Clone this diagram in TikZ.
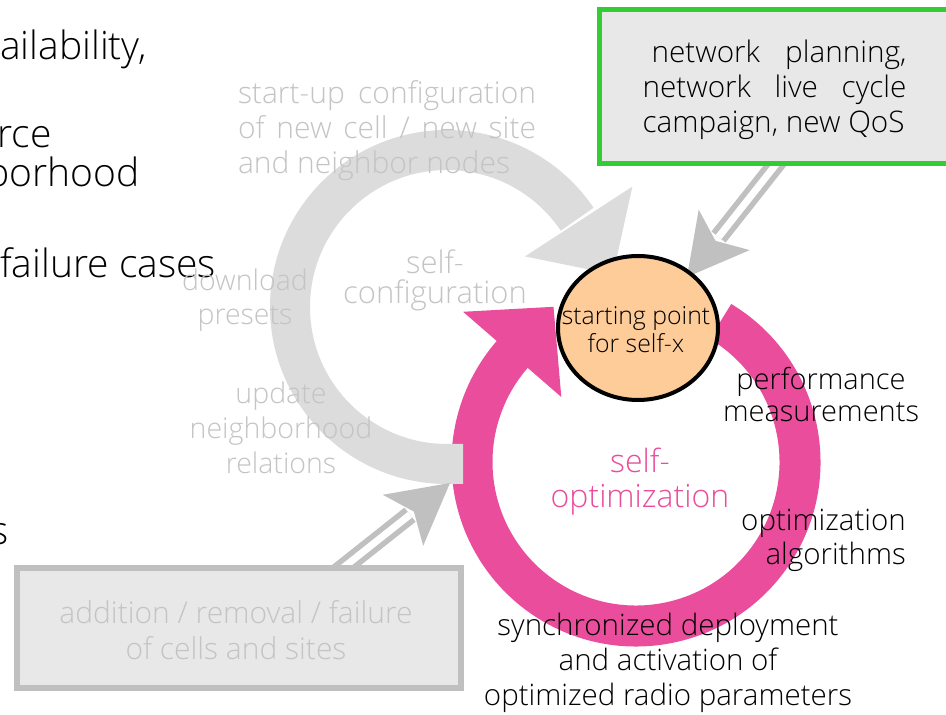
\documentclass[tikz,border=0pt]{standalone}
\usepackage{fontspec}
\setmainfont{Open Sans}[UprightFont={* Light}]
\usetikzlibrary{shapes.geometric}
\definecolor{pinkc}{RGB}{233,77,155}
\definecolor{arcgray}{RGB}{220,220,220}
\definecolor{txtgray}{RGB}{196,196,196}
\definecolor{dblgray}{RGB}{192,192,192}
\definecolor{boxfill}{RGB}{232,232,232}
\definecolor{greenc}{RGB}{51,204,51}
\definecolor{peach}{RGB}{253,204,153}
\begin{document}
\begin{tikzpicture}[x=1pt,y=1pt,
  slide/.style={font=\fontsize{39}{41}\selectfont, anchor=base west, inner sep=0pt, text=black},
  graytxt/.style={text=txtgray, align=center, inner sep=0pt},
  blacktxt/.style={text=black, align=center, inner sep=0pt},
  dbl/.style={draw=dblgray, line width=5.5pt, double=white, double distance=7pt},
  headfill/.style={fill=dblgray},
]
\useasboundingbox (0,0) rectangle (946,715);
\fill[white] (0,0) rectangle (946,715);
% cut-off slide text on the left
\node[slide] (t1) at (0,655) {ailability,};
\node[slide] (t2) at (-3,567) {rce};
\node[slide] (t3) at (-14,528) {borhood};
\node[slide] (t4) at (0,437) {failure cases};
\node[slide] (t5) at (-10,170) {s};
% pink self-optimization ring
\draw[pinkc, line width=41pt] (636,253) ++(59:164) arc[start angle=59, end angle=-222, radius=164];
\fill[pinkc] (463.1,403.2) -- (553.5,408.2) -- (561.3,318.0) -- cycle;
% gray self-configuration arc
\draw[arcgray, line width=40pt] (463,251) -- (447,251) arc[start angle=-90, end angle=-326, radius=157];
\fill[arcgray] (632.4,528.4) -- (613.0,440.6) -- (525.0,458.6) -- cycle;
% gray labels
\node[graytxt, font=\fontsize{30}{35}\selectfont, align=left] (su) at (387,584.5)
  {\makebox[298pt][s]{start-up configuration}\\\makebox[298pt][s]{of new cell / new site}\\and neighbor nodes};
\node[graytxt, font=\fontsize{31}{30}\selectfont] (sc) at (435,435) {self-\\configuration};
\node[graytxt, font=\fontsize{28.5}{34}\selectfont] (dl) at (245,415) {download\\presets};
\node[graytxt, font=\fontsize{28.5}{35}\selectfont] (un) at (281,287) {update\\neighborhood\\relations};
% coordinates of the double arrows
\coordinate (ua0) at (782,558.3);
\coordinate (uaE) at (718.6,478.0);
\coordinate (uaT) at (687,438);
\coordinate (uaB1) at (749.7,464.9);
\coordinate (uaN) at (715.5,474.1);
\coordinate (uaB2) at (698.7,505.3);
\coordinate (la0) at (337.7,143.0);
\coordinate (laE) at (410.0,200.3);
\coordinate (laT) at (450,232);
\coordinate (laB1) at (423.2,169.2);
\coordinate (laN) at (413.9,203.4);
\coordinate (laB2) at (382.8,220.2);
\draw[dbl] (ua0) -- (uaE);
\fill[headfill] (uaT) -- (uaB1) -- (uaN) -- (uaB2) -- cycle;
\draw[dbl] (la0) -- (laE);
\fill[headfill] (laT) -- (laB1) -- (laN) -- (laB2) -- cycle;
% boxes
\node[draw=greenc, line width=4.5pt, fill=boxfill, minimum width=380pt, minimum height=154pt,
  anchor=south west, inner sep=0pt, outer sep=0pt] (plan) at (599.5,551.5) {};
\node[blacktxt, font=\fontsize{29.7}{35}\selectfont, align=left] (plantxt) at (774.5,625)
  {\makebox[264pt][s]{\hspace*{9pt}network planning,}\\\makebox[264pt][s]{network live cycle}\\campaign, new QoS};
\node[draw=dblgray, line width=6pt, fill=boxfill, minimum width=444pt, minimum height=119.5pt,
  inner sep=0pt, outer sep=0pt] (ev) at (239,86.75) {};
\node[graytxt, font=\fontsize{30}{36}\selectfont] (evtxt) at (236,85) {addition / removal / failure\\of cells and sites};
% starting point
\node[ellipse, draw=black, line width=4pt, fill=peach, minimum width=160pt, minimum height=144pt,
  inner sep=0pt] (sp) at (638,387) {};
\node[blacktxt, font=\fontsize{24.8}{28}\selectfont] (sptxt) at (636,385) {starting point\\for self-x};
% self-optimization labels
\node[text=pinkc, align=center, inner sep=0pt, font=\fontsize{32}{35}\selectfont] (so) at (640,233) {self-\\optimization};
\node[blacktxt, font=\fontsize{29}{32}\selectfont] (pm) at (821,320) {performance\\measurements};
\node[blacktxt, align=right, anchor=east, font=\fontsize{29.5}{34}\selectfont] (oa) at (906,175) {optimization\\algorithms};
\node[blacktxt, font=\fontsize{29.5}{35}\selectfont] (sd) at (668,52) {synchronized deployment\\and activation of\\optimized radio parameters};
\end{tikzpicture}
\end{document}
